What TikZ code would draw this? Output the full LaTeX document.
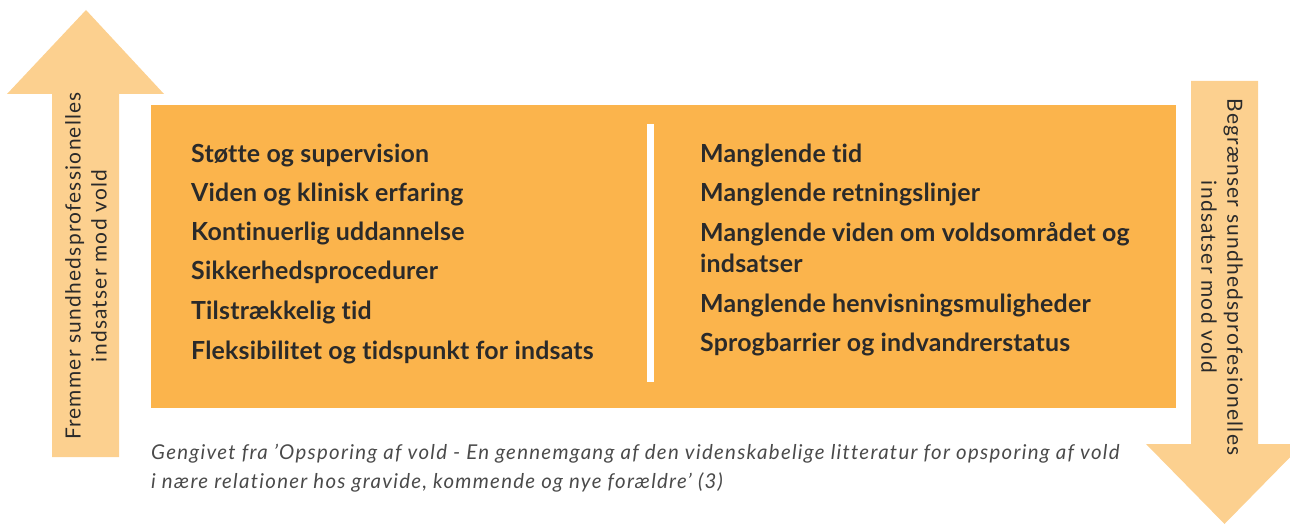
\documentclass[tikz,border=0pt]{standalone}
\usepackage{fontspec}
\setmainfont{Lato}[Ligatures=NoCommon]
\definecolor{boxc}{HTML}{FBB44C}
\definecolor{arrc}{HTML}{FCD08F}
\definecolor{txt}{HTML}{2A2A2A}
\begin{document}
\begin{tikzpicture}[x=1bp,y=1bp,
  item/.style={anchor=base west,inner sep=0pt,text=txt,font=\bfseries\addfontfeature{LetterSpace=0.8}\fontsize{25}{31}\selectfont},
  arrtext/.style={inner sep=0pt,text=txt,font=\addfontfeature{LetterSpace=6}\fontsize{21}{26}\selectfont,align=center},
  captext/.style={anchor=base west,inner sep=0pt,text=txt!85,font=\itshape\addfontfeature{LetterSpace=6.3}\fontsize{20.5}{28}\selectfont}]
\useasboundingbox (0,0) rectangle (1290,-524);
% left arrow (up)
\fill[arrc] (52,-457) -- (52,-94) -- (7,-94) -- (86,-10) -- (164,-94) -- (119,-94) -- (119,-457) -- cycle;
\coordinate (lc) at (86,-266);
\node[arrtext,rotate=90] (ltext) at (lc) {Fremmer sundhedsprofessionelles\\indsatser mod vold};
% right arrow (down)
\fill[arrc] (1191,-81) -- (1191,-444) -- (1146,-444) -- (1224.5,-524) -- (1303,-444) -- (1258,-444) -- (1258,-81) -- cycle;
\coordinate (rc) at (1222,-277);
\node[arrtext,rotate=-90] (rtext) at (rc) {Begrænser sundhedsprofesionelles\\indsatser mod vold};
% main box
\fill[boxc] (151,-105) rectangle (1176,-408);
\fill[white] (647,-124) rectangle (654,-382);
% left items
\node[item] (l1) at (191,-163) {Støtte og supervision};
\node[item] (l2) at (191,-202) {Viden og klinisk erfaring};
\node[item] (l3) at (191,-241) {Kontinuerlig uddannelse};
\node[item] (l4) at (191,-280) {Sikkerhedsprocedurer};
\node[item] (l5) at (191,-320) {Tilstrækkelig tid};
\node[item] (l6) at (191,-360) {Fleksibilitet og tidspunkt for indsats};
% right items
\node[item] (r1) at (700,-163) {Manglende tid};
\node[item] (r2) at (700,-202) {Manglende retningslinjer};
\node[item] (r3) at (700,-242) {Manglende viden om voldsområdet og};
\node[item] (r3b) at (700,-273) {indsatser};
\node[item] (r4) at (700,-313) {Manglende henvisningsmuligheder};
\node[item] (r5) at (700,-352) {Sprogbarrier og indvandrerstatus};
% caption
\node[captext] (c1) at (151,-459) {Gengivet fra 'Opsporing af vold - En gennemgang af den videnskabelige litteratur for opsporing af vold};
\node[captext] (c2) at (151,-488) {i nære relationer hos gravide, kommende og nye forældre' (3)};
\end{tikzpicture}
\end{document}
